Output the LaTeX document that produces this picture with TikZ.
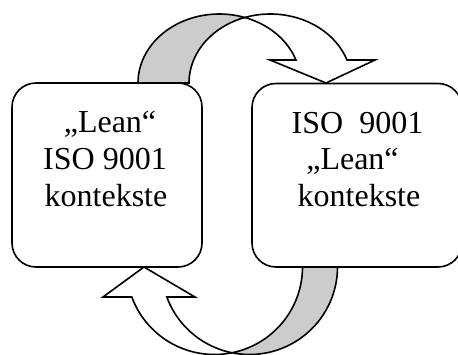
\documentclass[tikz,border=0pt]{standalone}
\usepackage{fontspec}
\setmainfont{Liberation Serif}
\begin{document}
\begin{tikzpicture}[x=1pt,y=-1pt,
  boxstyle/.style={draw=black, line width=1.6pt, fill=white, rounded corners=24pt, inner sep=0pt},
  txt/.style={anchor=base, inner sep=0pt, font=\fontsize{32}{38}\selectfont},
  band/.style={draw=black, line width=1.6pt, line join=miter},
]
\useasboundingbox (0,0) rectangle (458,354);
\clip (0,0) rectangle (458,354);
% boxes
\node[boxstyle, minimum width=190pt, minimum height=184pt] (L) at (107,175) {};
\node[boxstyle, minimum width=210pt, minimum height=183.5pt] (R) at (357,175.25) {};
% texts
\node[txt] (L1) at (110,132.7) {„Lean“};
\node[txt] (L2) at (105,169.3) {ISO 9001};
\node[txt] (L3) at (106,206.7) {kontekste};
\node[txt] (R1) at (357.5,133.3) {ISO\ \ 9001};
\node[txt] (R2) at (352.5,169.3) {„Lean“};
\node[txt] (R3) at (359,206.7) {kontekste};
% top curved arrow: back (gray) part
\path[band, fill=black!20]
  plot[domain=180:288.3, samples=40] ({219.3+81.3*cos(\x)},{83+69*sin(\x)})
  -- plot[domain=251.7:180, samples=40] ({270.3+81.3*cos(\x)},{83+69*sin(\x)})
  -- cycle;
% top curved arrow: front (white) part with head
\path[band, fill=white]
  plot[domain=251.7:340.53, samples=50] ({270.3+81.3*cos(\x)},{83+69*sin(\x)})
  -- (375,60) -- (326,83) -- (270,60)
  -- plot[domain=340.53:288.3, samples=40] ({219.3+81.3*cos(\x)},{83+69*sin(\x)})
  -- cycle;
% bottom curved arrow: back (gray) part
\path[band, fill=black!20]
  plot[domain=0:101.47, samples=40] ({249.5+88*cos(\x)},{267+87.5*sin(\x)})
  -- plot[domain=78.53:0, samples=40] ({214.5+88*cos(\x)},{267+87.5*sin(\x)})
  -- cycle;
% bottom curved arrow: front (white) part with head
\path[band, fill=white]
  plot[domain=78.53:159.95, samples=50] ({214.5+88*cos(\x)},{267+87.5*sin(\x)})
  -- (103,297) -- (144,267) -- (195,297)
  -- plot[domain=159.95:101.47, samples=40] ({249.5+88*cos(\x)},{267+87.5*sin(\x)})
  -- cycle;
\end{tikzpicture}
\end{document}
